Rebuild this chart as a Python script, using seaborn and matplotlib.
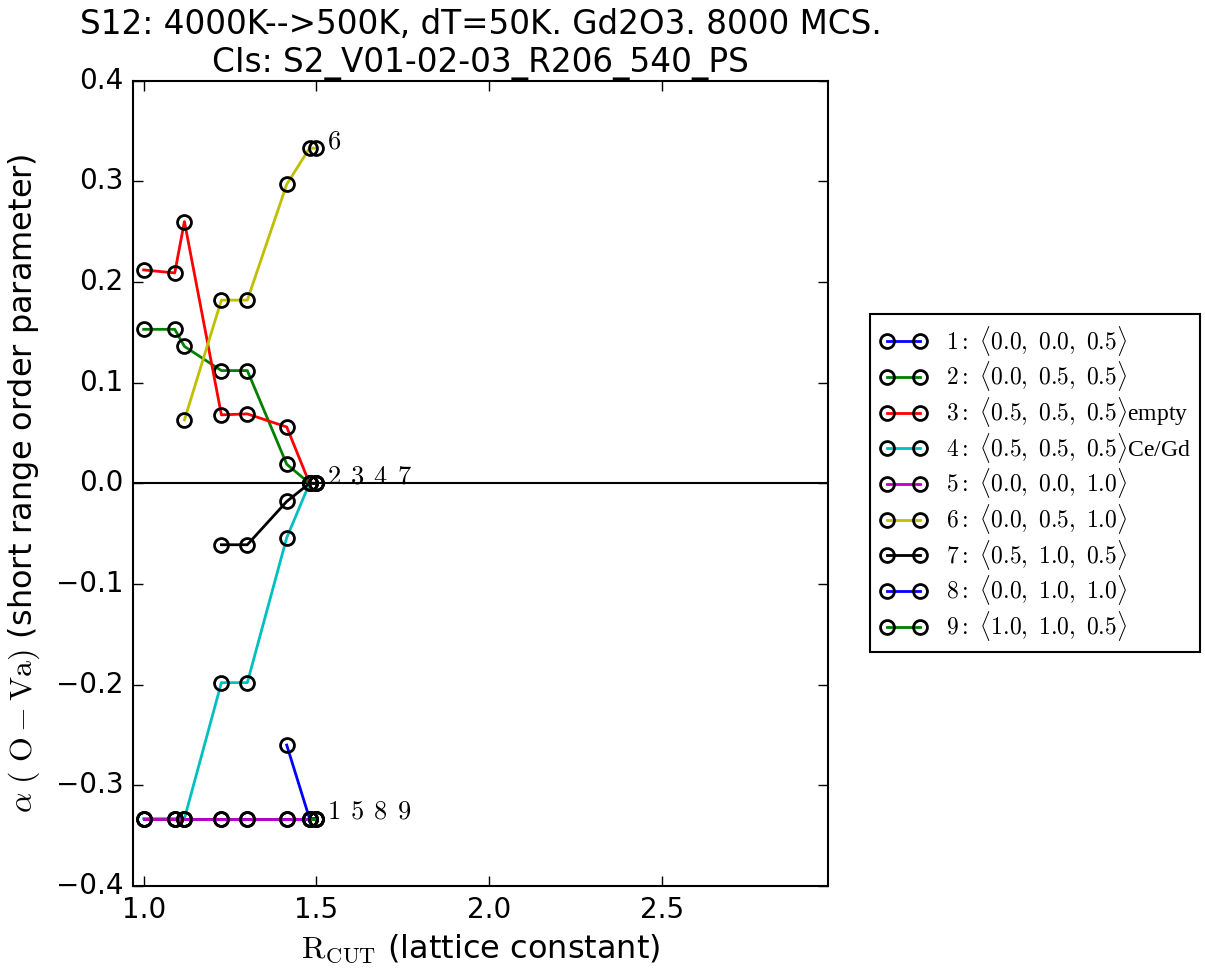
import matplotlib
matplotlib.use("Agg")
import matplotlib.pyplot as plt
import seaborn as sns
import numpy as np

# R_cut values (lattice constants) at which the cluster expansion was sampled
r_cut = [1.0, 1.09, 1.118, 1.225, 1.3, 1.414, 1.48, 1.5]

# short range order parameter for each pair cluster; shorter lists start at a later R_cut
s1 = [-0.333, -0.333, -0.333, -0.333, -0.333, -0.333, -0.333, -0.333]
s2 = [0.153, 0.153, 0.136, 0.112, 0.112, 0.019, 0.0, 0.0]
s3 = [0.212, 0.209, 0.260, 0.068, 0.069, 0.056, 0.0, 0.0]
s4 = [-0.333, -0.333, -0.333, -0.198, -0.198, -0.054, 0.0, 0.0]
s5 = [-0.333, -0.333, -0.333, -0.333, -0.333, -0.333, -0.333, -0.333]
s6 = [0.063, 0.182, 0.182, 0.297, 0.333, 0.333]
s7 = [-0.061, -0.061, -0.018, 0.0, 0.0]
s8 = [-0.260, -0.333, -0.333]
s9 = [-0.333, -0.333]

series = [s1, s2, s3, s4, s5, s6, s7, s8, s9]
colors = ["b", "g", "r", "c", "m", "y", "k", "b", "g"]
labels = [
    r"$1{:}\ \langle0.0,\ 0.0,\ 0.5\rangle$",
    r"$2{:}\ \langle0.0,\ 0.5,\ 0.5\rangle$",
    r"$3{:}\ \langle0.5,\ 0.5,\ 0.5\rangle$empty",
    r"$4{:}\ \langle0.5,\ 0.5,\ 0.5\rangle$Ce/Gd",
    r"$5{:}\ \langle0.0,\ 0.0,\ 1.0\rangle$",
    r"$6{:}\ \langle0.0,\ 0.5,\ 1.0\rangle$",
    r"$7{:}\ \langle0.5,\ 1.0,\ 0.5\rangle$",
    r"$8{:}\ \langle0.0,\ 1.0,\ 1.0\rangle$",
    r"$9{:}\ \langle1.0,\ 1.0,\ 0.5\rangle$",
]

# end-of-curve annotations grouping clusters by their final value
end_groups = [r"$6$", r"$2\;\,3\;\,4\;\,7$", r"$1\;\,5\;\,8\;\,9$"]
end_values = [0.333, 0.0, -0.333]
end_x = 1.53

plt.style.use("classic")
plt.rcParams.update({
    "figure.facecolor": "white",
    "savefig.facecolor": "white",
    "font.family": "DejaVu Sans",
    "mathtext.fontset": "cm",
    "axes.linewidth": 1.5,
    "xtick.major.size": 7,
    "ytick.major.size": 7,
    "xtick.major.width": 1.0,
    "ytick.major.width": 1.0,
    "xtick.major.pad": 7,
    "ytick.major.pad": 7,
})

fig = plt.figure(figsize=(12.05, 9.73), dpi=100)
ax = fig.add_axes([0.1106, 0.0894, 0.5765, 0.8277])

ax.axhline(0.0, color="k", lw=1.5, zorder=1)

for vals, col in zip(series, colors):
    xs = r_cut[len(r_cut) - len(vals):]
    sns.lineplot(x=xs, y=vals, ax=ax, color=col, lw=2, marker="o",
                 markersize=10, markerfacecolor="none", markeredgecolor="k",
                 markeredgewidth=2, estimator=None, sort=False, legend=False,
                 zorder=3)

for txt, yv in zip(end_groups, end_values):
    ax.text(end_x, yv, txt, fontsize=19, ha="left", va="baseline")

ax.set_xlim(0.97, 2.98)
ax.set_ylim(-0.4, 0.4)
ax.set_xticks([1.0, 1.5, 2.0, 2.5])
ax.set_yticks(np.round(np.arange(-0.4, 0.41, 0.1), 1))
ax.tick_params(labelsize=20, direction="in", top=True, right=True)

ax.set_xlabel(r"$\mathrm{R_{CUT}}$ (lattice constant)", fontsize=23,
              labelpad=6)
ax.set_ylabel(r"$\alpha\ (\ \mathrm{O-Va})$ (short range order parameter)",
              fontsize=23, labelpad=10)
ax.set_title("S12: 4000K-->500K, dT=50K. Gd2O3. 8000 MCS.\n"
             "CIs: S2_V01-02-03_R206_540_PS", fontsize=23.5, pad=6)

leg = ax.legend(ax.get_lines()[1:], labels, loc="center left",
                bbox_to_anchor=(1.0605, 0.5), numpoints=2, fancybox=False,
                prop={"family": "Liberation Serif", "size": 17},
                labelspacing=0.07, borderaxespad=0.0, frameon=True)
leg.get_frame().set_edgecolor("k")
leg.get_frame().set_linewidth(1.5)

fig.savefig("out.png", dpi=100)
